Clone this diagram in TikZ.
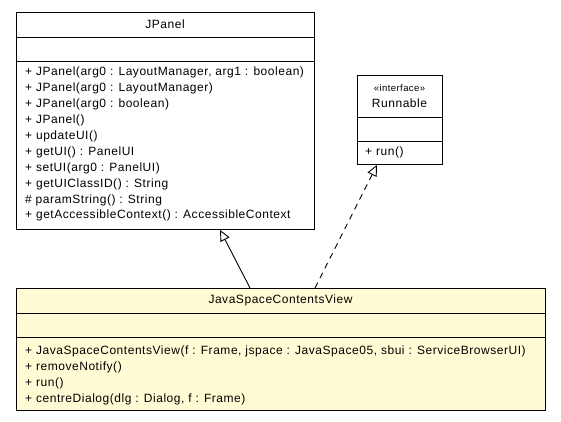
\documentclass[tikz,border=0pt]{standalone}
\usepackage{fontspec}
\setmainfont{Liberation Sans}[LetterSpace=4.5]
\usetikzlibrary{arrows.meta,calc}
\definecolor{noteyellow}{RGB}{255,251,212}
\tikzset{
  classbox/.style={draw=black, line width=0.9pt, inner sep=0pt, anchor=north west},
  sepline/.style={draw=black, line width=0.9pt},
  member/.style={anchor=west, inner sep=0pt, font=\fontsize{12}{14}\selectfont},
  title/.style={anchor=center, inner sep=0pt, font=\fontsize{12}{14}\selectfont},
  extends/.style={draw=black, line width=0.9pt, -{Triangle[open, length=11pt, width=10pt]}},
  implements/.style={extends, dash pattern=on 6pt off 5pt},
}
\begin{document}
\begin{tikzpicture}[x=1pt, y=-1pt]
\useasboundingbox (0,0) rectangle (561,421);

% JPanel
\node[classbox, fill=white, minimum width=298pt, minimum height=217pt] (jpanel) at (16,12) {};
\draw[sepline] (16,37) -- (314,37);
\draw[sepline] (16,61) -- (314,61);
\node[title] (jpT) at (165,24.5) {JPanel};
\node[member] (jp1) at (25,72) {+ JPanel(arg0 : LayoutManager, arg1 : boolean)};
\node[member] (jp2) at (25,88) {+ JPanel(arg0 : LayoutManager)};
\node[member] (jp3) at (25,104) {+ JPanel(arg0 : boolean)};
\node[member] (jp4) at (25,120) {+ JPanel()};
\node[member] (jp5) at (25,136) {+ updateUI()};
\node[member] (jp6) at (25,152) {+ getUI() : PanelUI};
\node[member] (jp7) at (25,168) {+ setUI(arg0 : PanelUI)};
\node[member] (jp8) at (25,184) {+ getUIClassID() : String};
\node[member] (jp9) at (25,200) {\# paramString() : String};
\node[member] (jp10) at (25,215.5) {+ getAccessibleContext() : AccessibleContext};

% Runnable
\node[classbox, fill=white, minimum width=85pt, minimum height=89pt] (runnable) at (357,75) {};
\draw[sepline] (357,117) -- (442,117);
\draw[sepline] (357,141) -- (442,141);
\node[title] (rnS) at (399.5,88) {\fontsize{9.5}{11}\selectfont «interface»};
\node[title] (rnT) at (399.5,103) {Runnable};
\node[member] (rn1) at (365,152.5) {+ run()};

% JavaSpaceContentsView
\node[classbox, fill=noteyellow, minimum width=529pt, minimum height=122pt] (jcv) at (16,288) {};
\draw[sepline] (16,313) -- (545,313);
\draw[sepline] (16,337) -- (545,337);
\node[title] (jcT) at (280.5,300.5) {JavaSpaceContentsView};
\node[member] (jc1) at (25,351) {+ JavaSpaceContentsView(f : Frame, jspace : JavaSpace05, sbui : ServiceBrowserUI)};
\node[member] (jc2) at (25,367) {+ removeNotify()};
\node[member] (jc3) at (25,383) {+ run()};
\node[member] (jc4) at (25,399) {+ centreDialog(dlg : Dialog, f : Frame)};

% relations
\draw[extends] ($(jcv.north west)+(234,0)$) -- ($(jpanel.south west)+(204,0)$);
\draw[implements] ($(jcv.north west)+(299,0)$) -- ($(runnable.south west)+(20,0)$);
\end{tikzpicture}
\end{document}
